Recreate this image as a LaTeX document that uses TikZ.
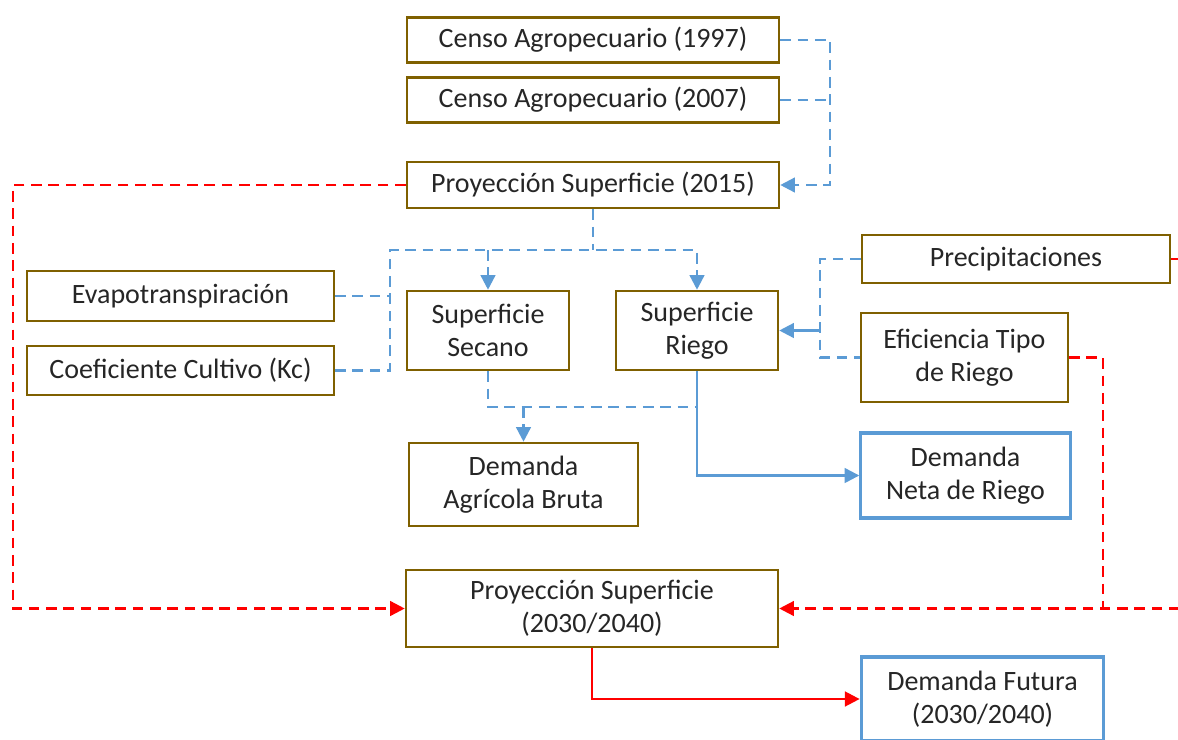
\documentclass[tikz,border=0pt]{standalone}
\usepackage{fontspec}
\setmainfont{Carlito}
\usetikzlibrary{arrows.meta}
\definecolor{boxbrown}{RGB}{127,96,0}
\definecolor{lineblue}{RGB}{91,155,213}
\definecolor{linered}{RGB}{255,0,0}
\definecolor{txt}{RGB}{38,38,38}
\tikzset{
  box/.style={draw=boxbrown, line width=1.9pt, fill=white, inner sep=0pt, align=center,
    text=txt, font=\fontsize{21}{25}\selectfont},
  bluebox/.style={box, draw=lineblue, line width=2.3pt},
  conn/.style={line width=1.8pt, -{Triangle[length=11pt,width=11pt]}},
  bd/.style={conn, draw=lineblue, dash pattern=on 8pt off 5pt},
  bs/.style={conn, draw=lineblue},
  rd/.style={conn, draw=linered, dash pattern=on 8pt off 5pt},
  rs/.style={conn, draw=linered},
  plain/.style={-}
}
\begin{document}
\begin{tikzpicture}[x=0.75pt,y=-0.75pt]
\useasboundingbox (0,0) rectangle (1178,739);
\clip (0,0) rectangle (1178,739);
% nodes
\node[box, minimum width=279pt, minimum height=33.75pt] (c97) at (593,40) {Censo Agropecuario (1997)};
\node[box, minimum width=279pt, minimum height=33.75pt] (c07) at (593,100) {Censo Agropecuario (2007)};
\node[box, minimum width=279pt, minimum height=34.5pt] (p15) at (593,185) {Proyección Superficie (2015)};
\node[box, minimum width=230pt, minimum height=37.5pt] (eva) at (180.5,296) {Evapotranspiración};
\node[box, minimum width=230pt, minimum height=36.75pt] (coef) at (180.5,370.5) {Coeficiente Cultivo (Kc)};
\node[box, minimum width=121.5pt, minimum height=59.25pt] (sec) at (488,330.5) {Superficie\\Secano};
\node[box, minimum width=121.5pt, minimum height=59.25pt] (rie) at (697,330.5) {Superficie\\Riego};
\node[box, minimum width=231pt, minimum height=36pt] (pre) at (1016,259) {Precipitaciones};
\node[box, minimum width=155pt, minimum height=66.75pt] (efi) at (964.5,357.5) {Eficiencia Tipo\\de Riego};
\node[box, minimum width=172pt, minimum height=62.25pt] (bru) at (523.5,484.5) {Demanda\\Agrícola Bruta};
\node[bluebox, minimum width=157pt, minimum height=63.75pt] (net) at (965.5,475.5) {Demanda\\Neta de Riego};
\node[box, minimum width=279pt, minimum height=57.75pt] (p30) at (592,608.5) {Proyección Superficie\\(2030/2040)};
\node[bluebox, minimum width=182pt, minimum height=63pt] (fut) at (982.5,699) {Demanda Futura\\(2030/2040)};
% junction coordinates
\coordinate (jA) at (830,0);
\coordinate (jL) at (13,0);
\coordinate (tL) at (390,250);
\coordinate (tB) at (0,407);
\coordinate (tR) at (820,0);
\coordinate (tE) at (1103,0);
\coordinate (tX) at (1200,0);
% blue dashed: censos to proyeccion 2015
\draw[bd] (c97.east) -- (jA |- c97.east) -- (jA |- p15.east) -- (p15.east);
\draw[bd,plain] (c07.east) -- (jA |- c07.east);
% red dashed: proyeccion 2015 to proyeccion 2030
\draw[rd] (p15.west) -- (jL |- p15.west) -- (jL |- p30.west) -- (p30.west);
% tree under proyeccion 2015
\draw[bd,plain] (p15.south) -- (p15.south |- tL);
\draw[bd,plain] (eva.east) -- (tL |- eva.east);
\draw[bd] (coef.east) -| (tL) -| (rie.north);
\draw[bd] (tL -| sec.north) -- (sec.north);
% secano/riego to demandas
\draw[bd,plain] (sec.south) |- (rie.south |- tB);
\draw[bd] (bru.north |- tB) -- (bru.north);
\draw[bs] (rie.south) |- (net.west);
% precipitaciones / eficiencia to riego
\draw[bd,plain] (pre.west) -| (tR |- efi.west) -- (efi.west);
\draw[bs] (tR |- rie.east) -- (rie.east);
% red dashed from eficiencia and precipitaciones
\draw[rd] (efi.east) -| (tE |- p30.east) -- (p30.east);
\draw[rd,plain] (pre.east) -| (tX |- p30.east) -- (tE |- p30.east);
% red solid
\draw[rs] (p30.south) |- (fut.west);
\end{tikzpicture}
\end{document}
